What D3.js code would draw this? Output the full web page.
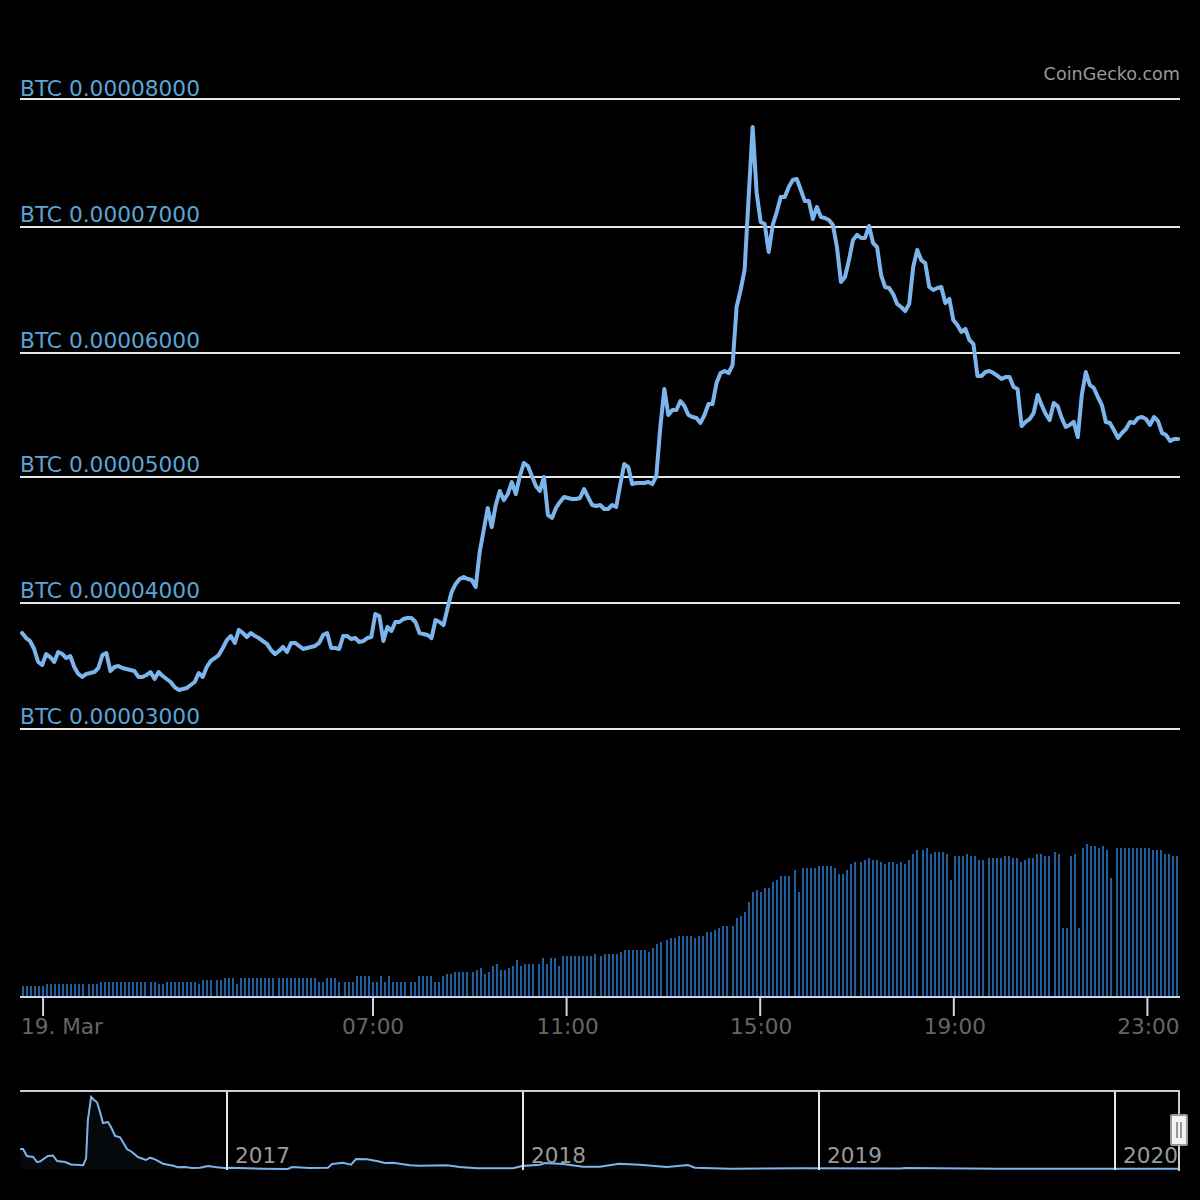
<!DOCTYPE html>
<html>
<head>
<meta charset="utf-8">
<script src="https://cdn.jsdelivr.net/npm/d3@7"></script>
<style>
  body { margin: 0; background: #000; }
  text { font-family: "DejaVu Sans", sans-serif; }
</style>
</head>
<body>
<script>
// price in satoshi per coin, one reading every ~5 minutes
const price = [
  3762,3722,3698,3635,3532,3508,3595,3571,3532,3611,
  3595,3563,3579,3492,3437,3413,3437,3444,3452,3484,
  3587,3603,3460,3492,3500,3484,3476,3468,3460,3413,
  3413,3429,3452,3397,3452,3421,3397,3373,3333,3310,
  3317,3325,3349,3373,3444,3413,3492,3540,3563,3587,
  3643,3706,3738,3683,3786,3762,3730,3762,3738,3722,
  3698,3675,3627,3595,3619,3651,3611,3683,3683,3659,
  3635,3643,3651,3659,3683,3746,3762,3643,3643,3635,
  3738,3738,3714,3722,3690,3698,3722,3730,3913,3897,
  3698,3810,3778,3849,3849,3873,3881,3881,3849,3762,
  3754,3746,3722,3865,3849,3825,3960,4087,4151,4190,
  4206,4190,4183,4127,4405,4579,4754,4603,4778,4889,
  4817,4865,4960,4865,5008,5111,5087,5008,4929,4889,
  5000,4698,4675,4754,4802,4841,4833,4825,4825,4833,
  4905,4841,4778,4770,4778,4746,4746,4778,4762,4937,
  5103,5079,4944,4952,4952,4952,4960,4944,5008,5397,
  5698,5492,5532,5532,5603,5563,5492,5476,5468,5429,
  5492,5579,5579,5746,5825,5841,5825,5889,6349,6484,
  6643,7222,7778,7254,7024,7008,6786,7000,7103,7222,
  7222,7302,7357,7365,7278,7190,7190,7048,7143,7063,
  7056,7040,7000,6825,6548,6587,6722,6881,6921,6897,
  6897,6992,6857,6825,6603,6508,6500,6452,6373,6349,
  6317,6373,6667,6802,6722,6698,6508,6484,6500,6508,
  6381,6413,6246,6206,6151,6175,6087,6056,5802,5802,
  5833,5841,5825,5802,5778,5794,5794,5714,5698,5405,
  5437,5460,5508,5651,5571,5500,5452,5587,5563,5468,
  5397,5413,5437,5317,5651,5833,5730,5706,5635,5571,
  5437,5429,5373,5310,5349,5381,5437,5429,5468,5476,
  5460,5413,5476,5444,5349,5333,5286,5302,5302
];

// volume bars, they come in runs with a slightly wider gap between runs
const volumeRuns = [16,15,16,15,16,16,15,16,15,16,16,15,16,15,16,16,15,16];
const volume = [
  11,11,11,11,11,11,13,13,13,13,13,13,13,13,13,13,
  13,13,13,15,15,15,15,15,15,15,15,15,15,15,15,
  15,15,13,13,15,15,15,15,15,15,15,15,13,17,17,17,
  17,17,19,19,19,13,19,19,19,19,19,19,19,19,19,
  19,19,19,19,19,19,19,19,19,19,15,15,19,19,19,15,
  15,15,15,21,21,21,21,15,15,21,15,21,15,15,15,15,
  15,15,21,21,21,21,15,15,21,23,23,25,25,25,25,
  25,27,29,23,25,31,33,27,27,29,31,37,31,33,33,33,
  33,39,33,39,39,31,41,41,41,41,41,41,41,41,43,
  41,43,43,43,43,45,47,47,47,47,47,47,45,49,53,55,
  57,59,59,61,61,61,61,59,61,61,65,65,67,69,71,71,
  71,79,81,85,95,105,107,105,109,109,115,117,121,121,121,
  127,105,129,129,129,129,131,131,131,131,129,123,123,127,133,135,
  135,137,139,137,137,135,133,135,135,133,135,133,137,143,147,
  147,149,143,145,145,145,143,117,141,141,141,143,141,141,137,137,
  139,139,139,139,141,141,139,139,135,137,139,139,143,143,141,141,
  145,143,69,69,141,143,69,149,153,151,151,149,151,147,119,
  149,149,149,149,149,149,149,149,149,147,147,147,143,143,141,141
];

// navigator: whole history, position in years and relative price
const navYears = [
  2016.301,2016.311,2016.324,2016.345,2016.358,2016.368,2016.395,2016.412,2016.426,2016.453,
  2016.473,2016.514,2016.524,2016.530,2016.541,2016.551,2016.561,2016.571,2016.581,2016.598,
  2016.608,2016.622,2016.639,2016.662,2016.679,2016.699,2016.726,2016.740,2016.757,2016.784,
  2016.818,2016.834,2016.858,2016.882,2016.909,2016.936,2016.966,2017.000,2017.010,2017.122,
  2017.206,2017.220,2017.280,2017.341,2017.355,2017.392,2017.419,2017.436,2017.473,2017.510,
  2017.534,2017.561,2017.618,2017.652,2017.743,2017.787,2017.845,2017.966,2017.997,2018.057,
  2018.074,2018.135,2018.203,2018.260,2018.324,2018.395,2018.486,2018.557,2018.581,2018.699,
  2018.936,2019.274,2019.291,2019.611,2020.213
];
const navPrice = [
  20,20,13,12,7,7.5,13,13.5,8,7,
  4.5,3.7,10.7,49,72,69,66.7,57,46,47,
  42,33,31.7,20,17,12,9,11.3,9.7,5.3,
  3.3,1.7,2,1,1.3,3,1.7,0.7,1.3,0.3,
  0,2,1,1.3,5,6.3,4.3,10,9.7,7.7,
  6,6.3,3.7,3.3,3.7,2,0.7,0.7,3,4.3,
  6,5,2.3,2.3,5.3,4.3,2,4,1.3,0.3,
  0.8,0.6,1,0.2,0.2
];

const yTicks = [0.00003,0.00004,0.00005,0.00006,0.00007,0.00008];
const xTickMinutes = [11,420,660,900,1140,1380];
const xTickLabels = ['19. Mar','07:00','11:00','15:00','19:00','23:00'];
const navTicks = [2017,2018,2019,2020];

const width = 1200;
const height = 1200;
const left = 20;
const right = 1180;

const svg = d3.select('body').append('svg')
    .attr('width', width)
    .attr('height', height)
    .style('display', 'block')
    .style('background', '#000');

// minutes since midnight on 19 March
const x = d3.scaleLinear().domain([-17.6, 1420.4]).range([left, right]);
const y = d3.scaleLinear().domain([0.00003, 0.00008]).range([729, 99]);
// grid lines land on whole pixels, not quite evenly spaced
const gridY = d3.scaleLinear().domain(yTicks).range([729, 603, 477, 353, 227, 99]);
const labelY = d3.scaleLinear().domain(yTicks).range([724, 598, 472, 348, 222, 96]);
const volY = d3.scaleLinear().domain([0, 153]).range([997, 844]);
const navX = d3.scaleLinear().domain([2016.3007, 2020.2162]).range([left, 1179]);
const navY = d3.scaleLinear().domain([0, 72]).range([1169, 1097]);

// y grid and labels
const grid = svg.selectAll('.grid').data(yTicks).enter().append('g').attr('class', 'grid');
grid.append('line')
    .attr('x1', left).attr('x2', right)
    .attr('y1', d => gridY(d)).attr('y2', d => gridY(d))
    .attr('stroke', '#e6e6e6').attr('stroke-width', 2);
grid.append('text')
    .attr('x', left).attr('y', d => labelY(d))
    .attr('font-size', 21.7).attr('fill', '#5ba4d6')
    .text(d => 'BTC ' + d.toFixed(8));

svg.append('text')
    .attr('x', right).attr('y', 80)
    .attr('text-anchor', 'end').attr('font-size', 17.6).attr('fill', '#999')
    .text('CoinGecko.com');

// price line
const priceStep = 4.976;
const line = d3.line().x((d, i) => x(-15 + i * priceStep)).y(d => y(d / 1e8));
svg.append('path')
    .attr('d', line(price))
    .attr('fill', 'none')
    .attr('stroke', '#7cb5ec')
    .attr('stroke-width', 4)
    .attr('stroke-linejoin', 'round')
    .attr('stroke-linecap', 'round');

// work out when each volume bar falls
const barStep = 4.96;
const barTimes = [];
let t = -15;
volumeRuns.forEach(n => {
    for (let k = 0; k < n; k++) {
        barTimes.push(t);
        t += barStep;
    }
    t += barStep / 2;
});

svg.selectAll('.vol').data(volume).enter().append('rect')
    .attr('class', 'vol')
    .attr('x', (d, i) => x(barTimes[i]))
    .attr('y', d => volY(d))
    .attr('width', 2)
    .attr('height', d => volY(0) - volY(d))
    .attr('fill', '#1f5f9f')
    .attr('shape-rendering', 'crispEdges');

// x axis
svg.append('line')
    .attr('x1', left).attr('x2', right)
    .attr('y1', 997).attr('y2', 997)
    .attr('stroke', '#ccd6eb').attr('stroke-width', 2);
svg.selectAll('.xtick').data(xTickMinutes).enter().append('line')
    .attr('class', 'xtick')
    .attr('x1', d => x(d)).attr('x2', d => x(d))
    .attr('y1', 997).attr('y2', 1016)
    .attr('stroke', '#ccd6eb').attr('stroke-width', 2);
svg.selectAll('.xlabel').data(xTickLabels).enter().append('text')
    .attr('class', 'xlabel')
    .attr('x', (d, i) => i === 0 ? 21 : x(xTickMinutes[i]) + (i === 1 ? 0 : 1))
    .attr('y', 1034)
    .attr('text-anchor', (d, i) => i === 0 ? 'start' : 'middle')
    .attr('font-size', 21.6).attr('fill', '#666')
    .text(d => d);

// navigator
const navData = navYears.map((d, i) => [d, navPrice[i]]);
svg.append('path')
    .attr('d', d3.area().x(d => navX(d[0])).y0(navY(0)).y1(d => navY(d[1]))(navData))
    .attr('fill', '#7cb5ec').attr('fill-opacity', 0.05);
svg.append('path')
    .attr('d', d3.line().x(d => navX(d[0])).y(d => navY(d[1]))(navData))
    .attr('fill', 'none').attr('stroke', '#7cb5ec').attr('stroke-width', 2);

svg.selectAll('.navtick').data(navTicks).enter().append('line')
    .attr('class', 'navtick')
    .attr('x1', d => navX(d)).attr('x2', d => navX(d))
    .attr('y1', 1091).attr('y2', 1170)
    .attr('stroke', '#e6e6e6').attr('stroke-width', 2);
svg.selectAll('.navlabel').data(navTicks).enter().append('text')
    .attr('class', 'navlabel')
    .attr('x', d => navX(d) + 8).attr('y', 1163)
    .attr('font-size', 21.6).attr('fill', '#999')
    .text(d => d);

svg.append('path')
    .attr('d', 'M' + left + ',1091H1179V1171')
    .attr('fill', 'none').attr('stroke', '#ccc').attr('stroke-width', 2);

// navigator handle
const handle = svg.append('g').attr('transform', 'translate(1179,1130)');
handle.append('rect')
    .attr('x', -8).attr('y', -15).attr('width', 16).attr('height', 30).attr('rx', 1)
    .attr('fill', '#f2f2f2').attr('stroke', '#999').attr('stroke-width', 2);
handle.selectAll('.grip').data([-2, 2]).enter().append('line')
    .attr('x1', d => d).attr('x2', d => d)
    .attr('y1', -8).attr('y2', 8)
    .attr('stroke', '#999').attr('stroke-width', 2);
</script>
</body>
</html>
